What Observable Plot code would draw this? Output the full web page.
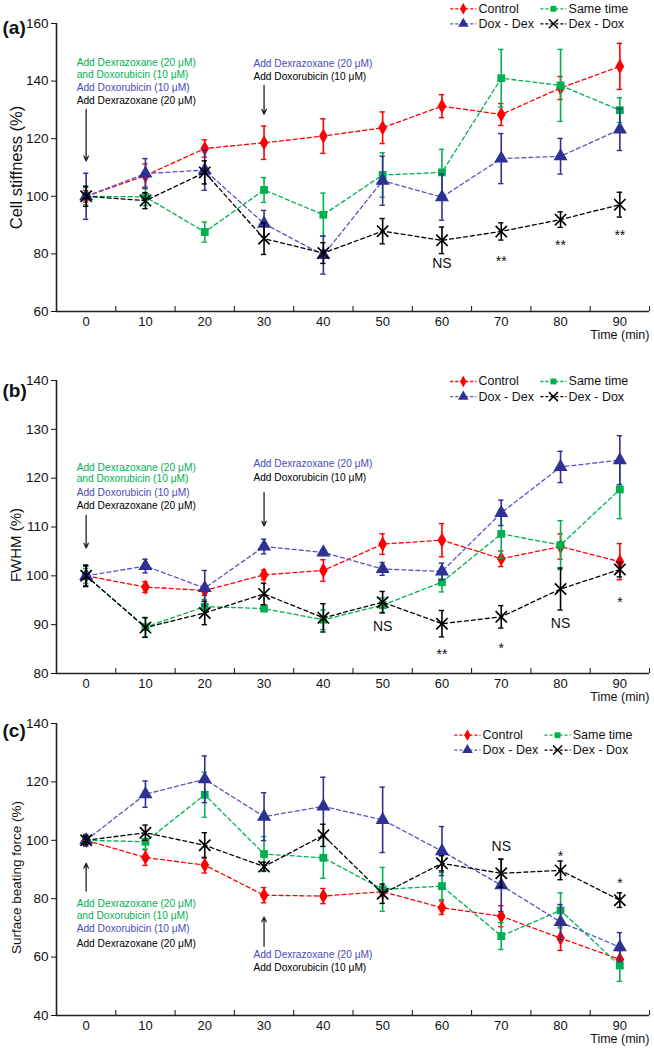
<!DOCTYPE html>
<html><head><meta charset="utf-8">
<script src="https://cdn.jsdelivr.net/npm/d3@7"></script>
<script src="https://cdn.jsdelivr.net/npm/@observablehq/plot@0.6"></script>
<style>
body{margin:0;background:#fff;font-family:Arial,"Liberation Sans",sans-serif;}
#chart{width:654px;}
#chart svg{display:block;overflow:visible;}
</style></head><body><div id="chart"></div>
<script>
// ---------- data ----------
const times = [0, 10, 20, 30, 40, 50, 60, 70, 80, 90];
const seriesNames = ["Control", "Same time", "Dox - Dex", "Dex - Dox"];

// (a) Cell stiffness (%)
const stiffControl    = [100, 107.2, 116.6, 118.6, 120.9, 123.8, 131.3, 128.4, 137.6, 145.1];
const stiffControlErr = [2, 4, 3, 5.8, 6, 5.5, 4, 3.8, 4, 8];
const stiffSame       = [100, 99.8, 87.6, 102.2, 93.6, 107.4, 108.3, 141.0, 138.5, 129.9];
const stiffSameErr    = [3, 3, 3.5, 4.3, 7.5, 7.7, 8, 10, 12.5, 4.3];
const stiffDoxDex     = [100, 107.9, 109.1, 90.5, 79.6, 105.4, 99.7, 113.1, 113.9, 123.2];
const stiffDoxDexErr  = [8, 5.2, 7, 4.6, 6.6, 8.5, 8, 8.7, 6.2, 7.3];
const stiffDexDox     = [100, 98.5, 108.3, 85.3, 80.3, 87.9, 84.7, 87.8, 91.9, 97.1];
const stiffDexDoxErr  = [3.5, 2.8, 4, 5.5, 3.6, 4.4, 4.6, 3, 2.7, 4.3];

// (b) FWHM (%)
const fwhmControl    = [100, 97.7, 97.0, 100.2, 101.1, 106.5, 107.3, 103.5, 106.0, 102.9];
const fwhmControlErr = [2, 1.1, 1, 1, 2.2, 2.1, 3.4, 1.6, 2.6, 3.7];
const fwhmSame       = [100, 89.5, 93.7, 93.3, 91.0, 94.0, 98.7, 108.6, 106.3, 117.7];
const fwhmSameErr    = [1.5, 2, 1.5, 0.6, 2, 1.5, 2, 5, 5, 6];
const fwhmDoxDex     = [100, 102.0, 97.5, 106.0, 104.8, 101.4, 100.9, 112.9, 122.3, 123.7];
const fwhmDoxDexErr  = [2, 1.4, 3.6, 1.5, 0.5, 1.3, 1.7, 2.6, 3.2, 5];
const fwhmDexDox     = [100, 89.4, 92.4, 96.3, 91.4, 94.6, 90.2, 91.6, 97.3, 101.3];
const fwhmDexDoxErr  = [2.2, 2, 2.4, 2.2, 2.9, 2.2, 2.7, 2.3, 4.3, 1.5];

// (c) Surface beating force (%)
const forceControl    = [100, 94.1, 91.5, 81.2, 80.9, 82.4, 76.9, 74.0, 66.5, 59.2];
const forceControlErr = [1.5, 2.7, 2.7, 2.6, 2.6, 1.5, 2.3, 3.6, 4.2, 3];
const forceSame       = [100, 99.5, 115.6, 95.3, 94.0, 83.2, 84.3, 67.2, 76.0, 57.1];
const forceSameErr    = [1.5, 2.5, 7.7, 6, 7, 7.5, 4.6, 4.6, 6, 5.4];
const forceDoxDex     = [100, 115.8, 120.9, 108.1, 111.6, 107.0, 96.3, 84.6, 72.0, 63.4];
const forceDoxDexErr  = [2, 4.5, 8, 8.2, 10, 11.2, 8.4, 9, 6, 5];
const forceDexDox     = [100, 102.6, 98.3, 91.0, 101.7, 81.7, 92.1, 88.7, 89.7, 79.5];
const forceDexDoxErr  = [1.5, 2.6, 4.3, 1.5, 3.8, 3.3, 2.6, 4.8, 3.2, 2.5];

// significance labels (time, label, value position)
const sigA = [[60, "NS", 76.7], [70, "**", 77.4], [80, "**", 82.9], [90, "**", 86.4]];
const sigB = [[50, "NS", 89.7], [60, "**", 83.8], [70, "*", 85.2], [80, "NS", 90.2], [90, "*", 94.5]];
const sigC = [[70, "NS", 97.8], [80, "*", 94.6], [90, "*", 85.1]];

// tick labels
const xTickLabels = times;
const xMinorTicks = [5, 15, 25, 35, 45, 55, 65, 75, 85, 95];
const yTicksA = [60, 80, 100, 120, 140, 160];
const yTicksB = [80, 90, 100, 110, 120, 130, 140];
const yTicksC = [40, 60, 80, 100, 120, 140];

// annotation texts
const noteFirst = ["Add Dexrazoxane (20 μM)", "and Doxorubicin (10 μM)", "Add Doxorubicin (10 μM)", "Add Dexrazoxane (20 μM)"];
const noteSecond = ["Add Dexrazoxane (20 μM)", "Add Doxorubicin (10 μM)"];

// ---------- styles ----------
const GREEN = "#00b050", BLUE = "#2e3192", BLUE_LINE = "#5555c4", RED = "#ff0000", BLACK = "#000000";
const TEXT_BLUE = "#4a4ab8";
const styles = [
  {color: RED, line: RED, symbol: "diamond", r: 4.6},
  {color: GREEN, line: GREEN, symbol: "square", r: 4.4},
  {color: BLUE, line: BLUE_LINE, symbol: "triangle", r: 5.2},
  {color: BLACK, line: BLACK, symbol: "times", r: 5.2, hollow: true}
];
const noteFirstColors = [GREEN, GREEN, TEXT_BLUE, BLACK];
const noteSecondColors = [TEXT_BLUE, BLACK];

function seriesMarks(values, errs, st) {
  const rows = times.map((t, i) => ({t, v: values[i], e: errs[i]}));
  const cap = 0.45;
  return [
    Plot.line(rows, {x: "t", y: "v", stroke: st.line, strokeWidth: 1.3, strokeDasharray: "4,3"}),
    Plot.ruleX(rows, {x: "t", y1: d => d.v - d.e, y2: d => d.v + d.e, stroke: st.color, strokeWidth: 1.6}),
    Plot.ruleY(rows, {y: d => d.v + d.e, x1: d => d.t - cap, x2: d => d.t + cap, stroke: st.color, strokeWidth: 1.4}),
    Plot.ruleY(rows, {y: d => d.v - d.e, x1: d => d.t - cap, x2: d => d.t + cap, stroke: st.color, strokeWidth: 1.4}),
    st.hollow
      ? Plot.dot(rows, {x: "t", y: "v", symbol: st.symbol, r: st.r, stroke: st.color, strokeWidth: 1.7})
      : Plot.dot(rows, {x: "t", y: "v", symbol: st.symbol, r: st.r, fill: st.color, stroke: null})
  ];
}

function legendMarks(L) {
  const items = seriesNames.map((name, i) => ({name, st: styles[i], x: L.cols[i % 2], y: L.rows[Math.floor(i / 2)]}));
  const marks = [];
  items.forEach(it => {
    marks.push(Plot.link([it], {x1: d => d.x - 2.2, x2: d => d.x + 2.2, y1: "y", y2: "y", stroke: it.st.line, strokeWidth: 1.3, strokeDasharray: "3,2"}));
    marks.push(it.st.hollow
      ? Plot.dot([it], {x: "x", y: "y", symbol: it.st.symbol, r: it.st.r * 0.8, stroke: it.st.color, strokeWidth: 1.5})
      : Plot.dot([it], {x: "x", y: "y", symbol: it.st.symbol, r: it.st.r * 0.75, fill: it.st.color}));
    marks.push(Plot.text([it], {x: d => d.x + 2.55, y: "y", text: "name", textAnchor: "start", fontSize: 12.5, fill: "#111"}));
  });
  return marks;
}

function noteMarks(N) {
  const first = noteFirst.map((s, i) => ({s, c: noteFirstColors[i], y: N.firstY[i]}));
  const second = noteSecond.map((s, i) => ({s, c: noteSecondColors[i], y: N.secondY[i]}));
  return [
    Plot.text(first, {x: N.firstX, y: "y", text: "s", fill: "c", textAnchor: "start", fontSize: 10.2}),
    Plot.text(second, {x: N.secondX, y: "y", text: "s", fill: "c", textAnchor: "start", fontSize: 10.2}),
    Plot.arrow(N.arrows, {x1: "x", x2: "x", y1: "y1", y2: "y2", stroke: "#222", strokeWidth: 1.3, headLength: 6, headAngle: 50})
  ];
}

function panel(cfg) {
  const sig = cfg.sig.map(([t, s, y]) => ({t, s, y}));
  return Plot.plot({
    width: 654,
    height: cfg.height,
    marginLeft: 56, marginRight: 5, marginTop: cfg.marginTop, marginBottom: cfg.marginBottom,
    x: {domain: [-5, 95], axis: null},
    y: {domain: cfg.yDomain, axis: null},
    style: {fontFamily: "Arial, 'Liberation Sans', sans-serif", fontSize: "13px", color: "#111", background: "transparent"},
    marks: [
      Plot.axisY({ticks: cfg.yTicks, tickSize: 5, tickPadding: 3, label: null, fontSize: 13.5, tickFormat: d => d}),
      Plot.axisX({ticks: xTickLabels, tickSize: 0, tickPadding: 5, label: null, fontSize: 13, tickFormat: d => d}),
      Plot.axisX({ticks: xMinorTicks, tickSize: -5, tickFormat: () => "", label: null}),
      Plot.ruleX([-5], {strokeWidth: 1.6, stroke: "#222"}),
      Plot.ruleY([cfg.yDomain[0]], {strokeWidth: 1.6, stroke: "#222"}),
      Plot.text([cfg.yLabel], {frameAnchor: "left", dx: -40, dy: cfg.yLabelDy, rotate: -90, textAnchor: "middle", fontSize: cfg.yLabelSize, fill: "#111"}),
      Plot.text([cfg.tag], {frameAnchor: "top-left", dx: -54, dy: cfg.tagDy, textAnchor: "start", fontSize: 19, fontWeight: "bold", fill: "#111"}),
      Plot.text(["Time (min)"], {frameAnchor: "bottom-right", dy: 27, textAnchor: "end", fontSize: 12.5, fill: "#111"}),
      ...noteMarks(cfg.notes),
      ...legendMarks(cfg.legend),
      ...seriesMarks(cfg.series[0], cfg.errs[0], styles[0]),
      ...seriesMarks(cfg.series[1], cfg.errs[1], styles[1]),
      ...seriesMarks(cfg.series[2], cfg.errs[2], styles[2]),
      ...seriesMarks(cfg.series[3], cfg.errs[3], styles[3]),
      Plot.text(sig, {x: "t", y: "y", text: "s", fontSize: 14, fill: "#111"})
    ]
  });
}

const chart = document.getElementById("chart");
chart.append(panel({
  height: 345, marginTop: 23, marginBottom: 34,
  yDomain: [60, 160], yTicks: yTicksA, yLabel: "Cell stiffness (%)", yLabelDy: 0, yLabelSize: 16.5, tag: "(a)", tagDy: -3,
  series: [stiffControl, stiffSame, stiffDoxDex, stiffDexDox],
  errs: [stiffControlErr, stiffSameErr, stiffDoxDexErr, stiffDexDoxErr],
  sig: sigA,
  legend: {rows: [165.1, 159.9], cols: [63.6, 78.8]},
  notes: {firstX: -1.6, firstY: [146.4, 142.1, 137.8, 133.3], secondX: 28.2, secondY: [146.1, 141.6],
          arrows: [{x: 0, y1: 130.2, y2: 112.3}, {x: 30, y1: 138.5, y2: 128.5}]}
}));
chart.append(panel({
  height: 360, marginTop: 35, marginBottom: 32,
  yDomain: [80, 140], yTicks: yTicksB, yLabel: "FWHM (%)", yLabelDy: 18, yLabelSize: 15, tag: "(b)", tagDy: 3,
  series: [fwhmControl, fwhmSame, fwhmDoxDex, fwhmDexDox],
  errs: [fwhmControlErr, fwhmSameErr, fwhmDoxDexErr, fwhmDexDoxErr],
  sig: sigB,
  legend: {rows: [139.8, 136.7], cols: [63.6, 78.8]},
  notes: {firstX: -1.6, firstY: [122.2, 119.8, 117.1, 114.3], secondX: 28.2, secondY: [122.9, 120.0],
          arrows: [{x: 0, y1: 112.4, y2: 105.7}, {x: 30, y1: 117.1, y2: 110.2}]}
}));
chart.append(panel({
  height: 345, marginTop: 18, marginBottom: 35,
  yDomain: [40, 140], yTicks: yTicksC, yLabel: "Surface beating force (%)", yLabelDy: 8, yLabelSize: 13.5, tag: "(c)", tagDy: 0,
  series: [forceControl, forceSame, forceDoxDex, forceDexDox],
  errs: [forceControlErr, forceSameErr, forceDoxDexErr, forceDexDoxErr],
  sig: sigC,
  legend: {rows: [136.0, 130.9], cols: [64.3, 79.5]},
  notes: {firstX: -1.6, firstY: [78.4, 74.0, 69.7, 64.7], secondX: 28.2, secondY: [60.9, 56.3],
          arrows: [{x: 0, y1: 82.6, y2: 92.1}, {x: 30, y1: 63.7, y2: 73.7}]}
}));
</script></body></html>
